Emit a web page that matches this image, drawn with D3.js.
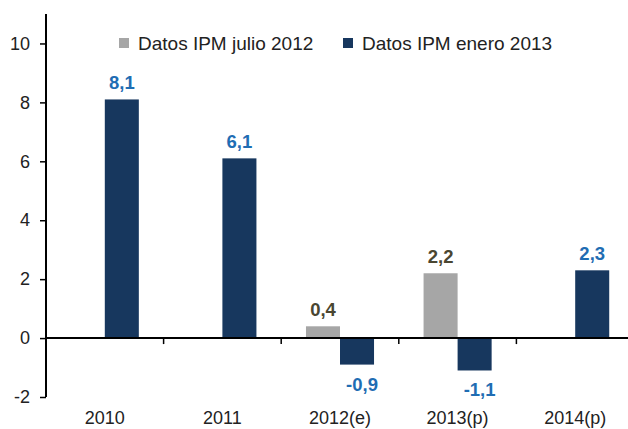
<!DOCTYPE html>
<html>
<head>
<meta charset="utf-8">
<script src="https://cdn.jsdelivr.net/npm/d3@7"></script>
<style>
  html, body { margin: 0; padding: 0; background: #fff; }
  svg { display: block; font-family: "Liberation Sans", Arial, sans-serif; }
</style>
</head>
<body>
<svg id="chart" width="628" height="429"></svg>
<script>
// Crecimiento por año: dos estimaciones del IPM
const categories = ["2010", "2011", "2012(e)", "2013(p)", "2014(p)"];
const seriesNames = ["Datos IPM julio 2012", "Datos IPM enero 2013"];
const julio2012 = [null, null, 0.4, 2.2, null];
const enero2013 = [8.1, 6.1, -0.9, -1.1, 2.3];
const yTicks = [-2, 0, 2, 4, 6, 8, 10];

const barColors = ["#a6a6a6", "#17375e"];
const labelColors = ["#4a4631", "#1f6db3"];

const svg = d3.select("#chart");
const W = 628, H = 429;

const x = d3.scaleBand().domain(categories).range([46, 634]).paddingInner(0).paddingOuter(0);
const x1 = d3.scaleBand().domain(seriesNames).range([0, x.bandwidth()])
  .paddingInner(0).paddingOuter(0.728);
const y = d3.scaleLinear().domain([-2, 11]).range([397, 14]);

// Coma decimal y guion simple para negativos
const fmt = v => (v < 0 ? "-" : "") + d3.format(".1f")(Math.abs(v)).replace(".", ",");

// Barras y etiquetas de valor
const seriesData = [julio2012, enero2013];
seriesNames.forEach((name, si) => {
  const rows = categories.map((c, i) => ({ c, v: seriesData[si][i] })).filter(d => d.v !== null);
  const g = svg.append("g");
  g.selectAll("rect").data(rows).join("rect")
    .attr("x", d => x(d.c) + x1(name))
    .attr("width", x1.bandwidth())
    .attr("y", d => y(Math.max(0, d.v)))
    .attr("height", d => Math.abs(y(d.v) - y(0)))
    .attr("fill", barColors[si]);
  g.selectAll("text").data(rows).join("text")
    .attr("x", d => x(d.c) + x1(name) + x1.bandwidth() / 2 + (d.v < 0 ? 5 : 0))
    .attr("y", d => d.v >= 0 ? y(d.v) - 10 : y(d.v) + 26)
    .attr("text-anchor", "middle")
    .attr("font-size", 18.5)
    .attr("font-weight", "bold")
    .attr("fill", labelColors[si])
    .text(d => fmt(d.v));
});

// Eje Y
const yAxis = svg.append("g")
  .attr("transform", "translate(46,0)")
  .call(d3.axisLeft(y).tickValues(yTicks).tickSize(6).tickPadding(10).tickFormat(d => String(d)));
yAxis.select(".domain").attr("d", `M0,${y(11)}V${y(-2)}`).attr("stroke", "#000").attr("stroke-width", 2);
yAxis.selectAll(".tick line").attr("stroke", "#000").attr("stroke-width", 1.5);
yAxis.selectAll(".tick text").attr("font-size", 18).attr("fill", "#222")
  .attr("font-family", "Liberation Sans, Arial, sans-serif");

// Eje X en el cero
const xAxis = svg.append("g").attr("transform", `translate(0,${y(0)})`);
xAxis.append("line").attr("x1", 46).attr("x2", W).attr("y1", 0).attr("y2", 0)
  .attr("stroke", "#000").attr("stroke-width", 2);
xAxis.selectAll("line.sep").data(categories.slice(1)).join("line")
  .attr("class", "sep")
  .attr("x1", d => x(d)).attr("x2", d => x(d))
  .attr("y1", 0).attr("y2", 6)
  .attr("stroke", "#000").attr("stroke-width", 1.5);

// Etiquetas de categoría
svg.append("g").selectAll("text").data(categories).join("text")
  .attr("x", d => x(d) + x.bandwidth() / 2)
  .attr("y", 424)
  .attr("text-anchor", "middle")
  .attr("font-size", 18)
  .attr("fill", "#222")
  .text(d => d);

// Leyenda
const legendX = [119, 343];
const legend = svg.append("g");
seriesNames.forEach((name, i) => {
  legend.append("rect").attr("x", legendX[i]).attr("y", 38).attr("width", 10).attr("height", 10)
    .attr("fill", barColors[i]);
  legend.append("text").attr("x", legendX[i] + 19).attr("y", 50)
    .attr("font-size", 19).attr("fill", "#222").text(name);
});
</script>
</body>
</html>
